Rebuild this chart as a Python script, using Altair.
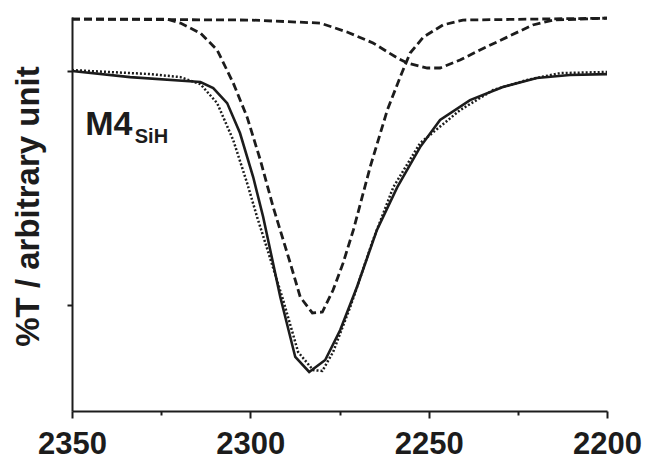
import altair as alt
import pandas as pd

# Wavenumber (cm-1) and %T (arbitrary) for each trace
solid_x = [2350, 2333.7, 2314.0, 2310.4, 2306.5, 2302.9, 2299.2, 2296.4, 2291.6, 2287.4,
           2283.5, 2279.0, 2274.8, 2270.1, 2264.5, 2258.8, 2252.4, 2246.8, 2238.4,
           2229.2, 2219.7, 2210.4, 2200]
solid_y = [100, 97.4, 95.3, 92.7, 86.3, 73.5, 54.7, 37.6, 3.4, -22.2,
           -28.6, -23.5, -10.7, 7.7, 32.1, 50.4, 67.5, 79.1, 87.6,
           93.2, 97.0, 98.3, 98.7]

dotted_x = [2350, 2328.1, 2319.6, 2314.0, 2309.3, 2304.8, 2300.9, 2298.1, 2295.6, 2290.8,
            2286.6, 2282.4, 2279.8, 2276.8, 2272.0, 2265.6, 2259.9, 2252.4, 2241.2,
            2231.9, 2222.4, 2213.2, 2200]
dotted_y = [100.4, 98.7, 97.4, 94.4, 86.3, 70.5, 52.1, 37.6, 25.6, 2.1,
            -20.1, -27.8, -28.2, -20.1, -0.9, 27.8, 50.4, 69.2, 83.3,
            91.9, 96.2, 99.1, 99.6]

narrow_x = [2350, 2323.4, 2319.6, 2314.0, 2309.3, 2304.8, 2300.9, 2297.2, 2293.6, 2288.8,
            2286.0, 2282.6, 2279.8, 2276.8, 2274.0, 2271.1, 2266.4, 2261.6, 2258.0,
            2255.2, 2251.5, 2246.0, 2240.4, 2200]
narrow_y = [122.2, 122.2, 120.5, 116.2, 109.0, 94.9, 80.3, 62.0, 41.9, 17.9,
            3.4, -3.4, -3.0, 6.4, 17.9, 32.1, 59.0, 83.3, 97.4,
            107.7, 114.5, 119.7, 121.8, 122.6]

broad_x = [2350, 2300, 2280.4, 2272.9, 2265.6, 2258.8, 2256.0, 2250.4, 2246.8, 2241.2,
           2235.6, 2228.0, 2220.8, 2215.1, 2200]
broad_y = [122.2, 121.8, 120.5, 116.7, 112.0, 105.6, 103.4, 101.3, 101.3, 104.7,
           109.0, 114.5, 119.7, 121.8, 122.6]

x_major = [2350, 2300, 2250, 2200]
x_minor = [2325, 2275, 2225]
y_ticks = [0, 100]

FONT = "Liberation Sans"
INK = "#1c1c1c"

x_dom = [2350, 2200]
y_dom = [-45.3, 123.1]


def frame(xs, ys):
    return pd.DataFrame({"wn": xs, "t": ys, "i": list(range(len(xs)))})


xscale = alt.Scale(domain=x_dom, nice=False, zero=False)
yscale = alt.Scale(domain=y_dom, nice=False, zero=False)

x_axis = alt.Axis(values=x_major, title=None, format="d", orient="bottom",
                  tickSize=7, tickWidth=2,
                  domainWidth=2, domainColor=INK, tickColor=INK,
                  labelFont=FONT, labelFontSize=31, labelFontWeight="bold",
                  labelColor=INK, labelPadding=11, labelFlush=False, grid=False)
y_axis = alt.Axis(values=y_ticks, labels=False, orient="left", tickSize=5, tickWidth=2,
                  domainWidth=2, domainColor=INK, tickColor=INK, grid=False,
                  title="%T / arbitrary unit", titleFont=FONT, titleFontSize=33,
                  titleFontWeight="bold", titleColor=INK, titleAngle=270,
                  titleAlign="center", titleBaseline="alphabetic",
                  titleX=-34, titleY=189)


def line(df, dash, width, axes=False):
    enc = dict(
        x=alt.X("wn:Q", scale=xscale, axis=x_axis if axes else None),
        y=alt.Y("t:Q", scale=yscale, axis=y_axis if axes else None),
        order="i:Q",
    )
    props = dict(color=INK, strokeWidth=width)
    if dash:
        props["strokeDash"] = dash
    return alt.Chart(df).mark_line(**props).encode(**enc)


solid = line(frame(solid_x, solid_y), None, 2.6, axes=True)
dotted = line(frame(dotted_x, dotted_y), [2, 2], 2.5)
narrow = line(frame(narrow_x, narrow_y), [8, 4], 2.8)
broad = line(frame(broad_x, broad_y), [8, 4], 2.8)

minor = alt.Chart(pd.DataFrame({"wn": x_minor})).mark_point(opacity=0).encode(
    x=alt.X("wn:Q", scale=xscale,
            axis=alt.Axis(values=x_minor, labels=False, title=None, orient="bottom",
                          tickSize=4, tickWidth=2, tickColor=INK, domain=False,
                          grid=False)),
)

lab_main = alt.Chart(pd.DataFrame({"wn": [2346.3], "t": [72.6], "s": ["M4"]})).mark_text(
    font=FONT, fontSize=34, fontWeight="bold", color=INK, align="left",
    baseline="alphabetic").encode(
    x=alt.X("wn:Q", scale=xscale, axis=None),
    y=alt.Y("t:Q", scale=yscale, axis=None), text="s:N")
lab_sub = alt.Chart(pd.DataFrame({"wn": [2332.4], "t": [69.2], "s": ["SiH"]})).mark_text(
    font=FONT, fontSize=20, fontWeight="bold", color=INK, align="left",
    baseline="alphabetic").encode(
    x=alt.X("wn:Q", scale=xscale, axis=None),
    y=alt.Y("t:Q", scale=yscale, axis=None), text="s:N")

chart = alt.layer(solid, dotted, narrow, broad, minor, lab_main, lab_sub).resolve_axis(
    x="independent", y="independent"
).properties(
    width=535, height=394,
    autosize=alt.AutoSizeParams(type="none"),
    padding={"left": 72, "top": 17, "right": 40, "bottom": 48},
    background="white",
).configure_view(stroke=None)

chart.save("out.html", embed_options={"renderer": "svg", "actions": False})
